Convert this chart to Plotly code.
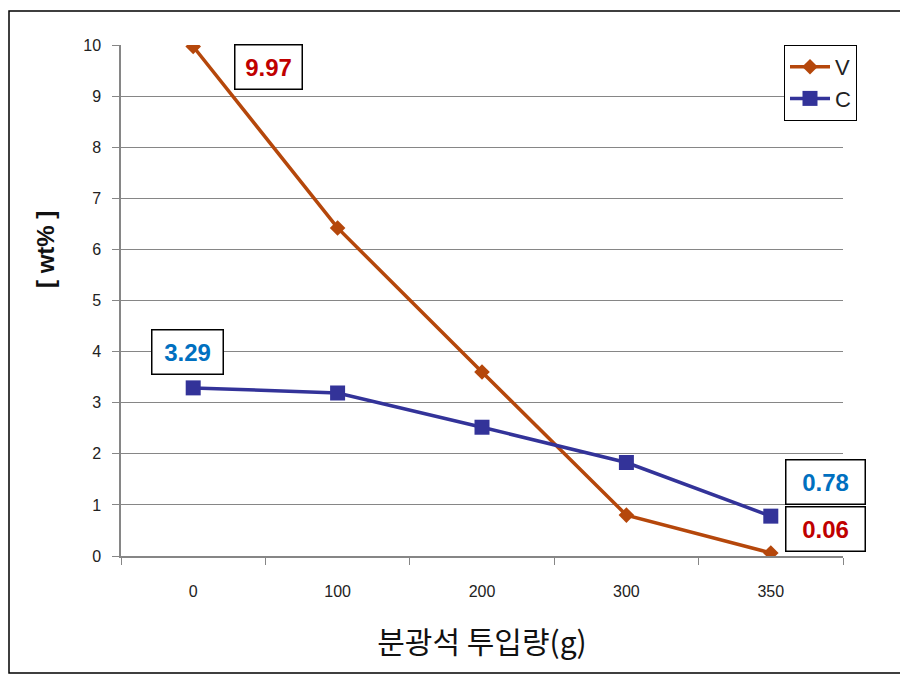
import plotly.graph_objects as go

categories = ["0", "100", "200", "300", "350"]
v_values = [9.97, 6.42, 3.60, 0.80, 0.06]
c_values = [3.29, 3.19, 2.52, 1.83, 0.78]
y_ticks = list(range(0, 11))

# page body adds an 8px offset; compensate in margins
OFF = 8
W, H = 908, 682
L, T = 121 - OFF, 45 - OFF
R = W - (843 - OFF)
B = H - (556 - OFF)
pw, ph = W - L - R, H - T - B
idx = list(range(len(categories)))

fig = go.Figure()
fig.add_trace(go.Scatter(
    x=idx, y=v_values, name="V", mode="lines+markers",
    line=dict(color="#B5470B", width=3.5),
    marker=dict(symbol="diamond", size=12, color="#B5470B"),
))
fig.add_trace(go.Scatter(
    x=idx, y=c_values, name="C", mode="lines+markers",
    line=dict(color="#333399", width=3.5),
    marker=dict(symbol="square", size=15, color="#333399"),
))

def label(i, series, text, color, xs, ys, w):
    fig.add_annotation(
        x=idx[i], y=series[i], xref="x", yref="y", text="<b>%s</b>" % text,
        showarrow=False, xshift=xs, yshift=ys, width=w, height=41,
        bgcolor="white", bordercolor="black", borderwidth=1.5, borderpad=1,
        font=dict(family="Liberation Sans, Arial", size=24, color=color),
    )

label(0, v_values, "9.97", "#C00000", 75, -20, 64)
label(0, c_values, "3.29", "#0070C0", -6, 36, 68)
label(4, c_values, "0.78", "#0070C0", 55, 34, 76)
label(4, v_values, "0.06", "#C00000", 55, 24, 76)

# y-axis title as annotation (screen centre x=45, y=250)
fig.add_annotation(
    xref="paper", yref="paper", xanchor="center", yanchor="middle",
    x=(45 - OFF - L) / pw, y=(H - B - (250 - OFF)) / ph,
    text="<b>[ wt% ]</b>", textangle=-90, showarrow=False,
    font=dict(family="Liberation Sans, Arial", size=24, color="#111"),
)

# outer frame (screen coords 5..903, 11..673)
fx0, fx1 = max(1, 5 - OFF), 903 - OFF
fy0, fy1 = 11 - OFF, 673 - OFF
fig.add_shape(type="rect", xref="paper", yref="paper",
              x0=(fx0 - L) / pw, x1=(fx1 - L) / pw,
              y0=(H - B - fy1) / ph, y1=(H - B - fy0) / ph,
              line=dict(color="black", width=1.5), layer="below")

fig.update_layout(
    width=W, height=H, margin=dict(l=L, r=R, t=T, b=B, autoexpand=False),
    paper_bgcolor="white", plot_bgcolor="white",
    font=dict(family="Liberation Sans, Arial", size=16, color="#222"),
    legend=dict(x=(784 - OFF - L) / pw, y=1.0, xanchor="left", yanchor="top",
                bordercolor="black", borderwidth=1, bgcolor="white",
                font=dict(size=22), tracegroupgap=0, itemwidth=40),
    xaxis=dict(range=[-0.5, 4.5], tickvals=idx, ticktext=categories, ticks="",
               minor=dict(tick0=0.5, dtick=1, ticks="outside", ticklen=7,
                          tickcolor="#868686", showgrid=False),
               showline=True, linecolor="#868686", linewidth=1.5,
               showgrid=False, zeroline=False, ticklabelstandoff=20, automargin=False,
               title=dict(text="분광석 투입량(g)", standoff=33,
                          font=dict(family="Noto Sans CJK KR", size=30, color="#111"))),
    yaxis=dict(range=[0, 10], tickvals=y_ticks, ticks="outside", ticklen=7,
               tickcolor="#868686", showline=True, linecolor="#868686", linewidth=1.5,
               showgrid=True, gridcolor="#868686", gridwidth=1, zeroline=False,
               ticklabelstandoff=8, automargin=False),
)

fig.write_html("out.html")
